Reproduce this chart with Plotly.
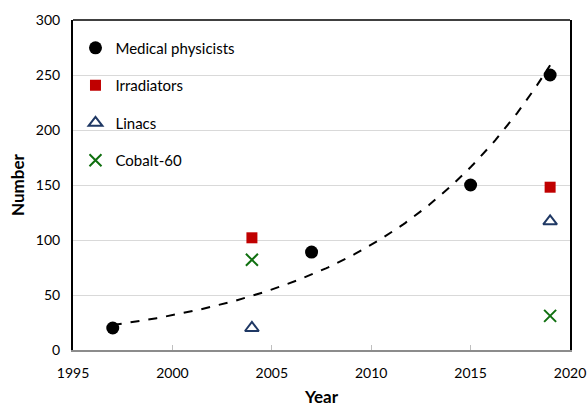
import numpy as np
import plotly.graph_objects as go

# Survey years and counts
phys_years = [1997, 2007, 2015, 2019]
phys_counts = [20, 89, 150, 250]

irr_years = [2004, 2019]
irr_counts = [102, 148]

linac_years = [2004, 2019]
linac_counts = [20, 117]

cobalt_years = [2004, 2019]
cobalt_counts = [82, 31]

x_ticks = [1995, 2000, 2005, 2010, 2015, 2020]
y_ticks = [0, 50, 100, 150, 200, 250, 300]

FONT = "Lato"

# Exponential trend fitted to the physicist counts
b, a = np.polyfit(np.array(phys_years) - phys_years[0], np.log(phys_counts), 1)
trend_x = np.linspace(phys_years[0], phys_years[-1], 200)
trend_y = np.exp(a + b * (trend_x - phys_years[0]))

fig = go.Figure()

fig.add_trace(go.Scatter(
    x=trend_x, y=trend_y, mode="lines",
    line=dict(color="black", width=2, dash="dash"),
    showlegend=False, hoverinfo="skip",
))

fig.add_trace(go.Scatter(
    x=phys_years, y=phys_counts, mode="markers", name="Medical physicists",
    legendgroup="a",
    marker=dict(symbol="circle", size=13, color="black"),
))
fig.add_trace(go.Scatter(
    x=irr_years, y=irr_counts, mode="markers", name="Irradiators",
    legendgroup="b",
    marker=dict(symbol="square", size=11, color="#c00000"),
))
fig.add_trace(go.Scatter(
    x=linac_years, y=linac_counts, mode="markers", name="Linacs",
    legendgroup="c",
    marker=dict(symbol="triangle-up-open", size=12, color="#1f3864",
                line=dict(width=2, color="#1f3864")),
))
fig.add_trace(go.Scatter(
    x=cobalt_years, y=cobalt_counts, mode="markers", name="Cobalt-60",
    legendgroup="d",
    marker=dict(symbol="x-thin-open", size=12, color="#107010",
                line=dict(width=2, color="#107010")),
))

# top border of the plot frame
fig.add_shape(type="line", xref="paper", yref="paper", x0=0, x1=1, y0=1, y1=1,
              line=dict(color="black", width=1.5))

fig.update_layout(
    width=587, height=407,
    margin=dict(l=73, r=17, t=20, b=57),
    paper_bgcolor="white", plot_bgcolor="white",
    font=dict(family=FONT, size=14, color="black"),
    legend=dict(
        x=0.005, y=0.965, xanchor="left", yanchor="top",
        bgcolor="rgba(0,0,0,0)", font=dict(family=FONT, size=15),
        tracegroupgap=15, traceorder="grouped",
    ),
    xaxis=dict(
        range=[1995, 2020], tickvals=x_ticks, ticktext=[str(v) for v in x_ticks],
        showgrid=False, zeroline=False, automargin=False,
        showline=True, linecolor="#8c8c8c", linewidth=1.5,
        ticks="inside", ticklen=5, tickcolor="#bfbfbf", tickwidth=1,
        ticklabelstandoff=9,
        tickfont=dict(family=FONT, size=14),
        title=dict(text="<b>Year</b>", font=dict(family=FONT, size=17), standoff=14),
    ),
    yaxis=dict(
        range=[0, 300], tickvals=y_ticks, ticktext=[str(v) for v in y_ticks],
        showgrid=True, gridcolor="#d9d9d9", gridwidth=1, zeroline=False,
        showline=True, linecolor="black", linewidth=2, mirror=True,
        automargin=False, ticks="", ticklabelstandoff=8,
        tickfont=dict(family=FONT, size=14),
        title=dict(text="<b>Number</b>", font=dict(family=FONT, size=17), standoff=7),
    ),
)

fig.write_html("out.html")
